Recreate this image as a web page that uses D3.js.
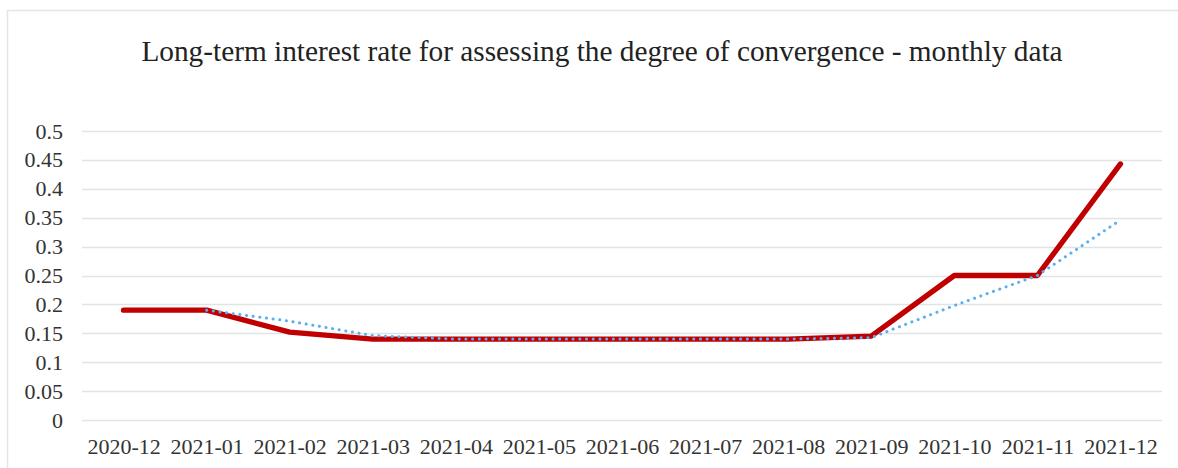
<!DOCTYPE html>
<html>
<head>
<meta charset="utf-8">
<script src="https://cdn.jsdelivr.net/npm/d3@7"></script>
<style>
  html, body { margin: 0; padding: 0; background: #fff; }
  svg { display: block; }
</style>
</head>
<body>
<svg id="chart" width="1178" height="468"></svg>
<script>
const title = "Long-term interest rate for assessing the degree of convergence - monthly data";
const months = ["2020-12","2021-01","2021-02","2021-03","2021-04","2021-05","2021-06","2021-07","2021-08","2021-09","2021-10","2021-11","2021-12"];
const rateValues = [0.19, 0.19, 0.152, 0.14, 0.14, 0.14, 0.14, 0.14, 0.14, 0.145, 0.25, 0.25, 0.443];
// dotted trend line (starts at 2021-01)
const trendMonths = ["2021-01","2021-02","2021-03","2021-04","2021-05","2021-06","2021-07","2021-08","2021-09","2021-10","2021-11","2021-12"];
const trendValues = [0.19, 0.171, 0.146, 0.14, 0.14, 0.14, 0.14, 0.14, 0.1425, 0.198, 0.25, 0.346];
const yTicks = [0, 0.05, 0.1, 0.15, 0.2, 0.25, 0.3, 0.35, 0.4, 0.45, 0.5];

const svg = d3.select("#chart");
const plotLeft = 82, plotRight = 1162, plotTop = 131, plotBottom = 420;
const serif = "'Liberation Serif', 'Times New Roman', serif";

// outer border
svg.append("rect").attr("x", 7.5).attr("y", 10.5).attr("width", 1190).attr("height", 480)
  .attr("fill", "none").attr("stroke", "#e3e6e6").attr("stroke-width", 1.5);

const x = d3.scalePoint().domain(months).range([plotLeft, plotRight]).padding(0.5);
const y = d3.scaleLinear().domain([0, 0.5]).range([plotBottom, plotTop]);

// gridlines
svg.append("g").selectAll("line").data(yTicks).join("line")
  .attr("x1", plotLeft).attr("x2", plotRight)
  .attr("y1", d => Math.round(y(d)) + 0.5).attr("y2", d => Math.round(y(d)) + 0.5)
  .attr("stroke", "#e1e4e4").attr("stroke-width", 1.3);

// y axis labels
const yAxis = d3.axisLeft(y).tickValues(yTicks).tickSize(0).tickPadding(0)
  .tickFormat(d => String(+d.toFixed(2)));
const gy = svg.append("g").attr("transform", "translate(63,0)").call(yAxis);
gy.select(".domain").remove();
gy.selectAll("text").attr("font-family", serif)
  .attr("font-size", 22).attr("fill", "#333");

// x axis labels
const xAxis = d3.axisBottom(x).tickSize(0).tickPadding(0);
const gx = svg.append("g").attr("transform", "translate(0,438)").call(xAxis);
gx.select(".domain").remove();
gx.selectAll("text").attr("font-family", serif)
  .attr("font-size", 22).attr("fill", "#333");

// main line
const line = d3.line().x(d => x(d[0])).y(d => y(d[1]));
svg.append("path").datum(months.map((m, i) => [m, rateValues[i]]))
  .attr("d", line).attr("fill", "none").attr("stroke", "#c00000")
  .attr("stroke-width", 5.3).attr("stroke-linejoin", "round").attr("stroke-linecap", "round");

// dotted trend line
svg.append("path").datum(trendMonths.map((m, i) => [m, trendValues[i]]))
  .attr("d", line).attr("fill", "none").attr("stroke", "#5aaff0")
  .attr("stroke-width", 3).attr("stroke-dasharray", "0.1 6.6").attr("stroke-linecap", "round");

// title
svg.append("text").attr("x", 602).attr("y", 61).attr("text-anchor", "middle")
  .attr("font-family", serif)
  .attr("font-size", 29.3).attr("fill", "#222").text(title);
</script>
</body>
</html>
